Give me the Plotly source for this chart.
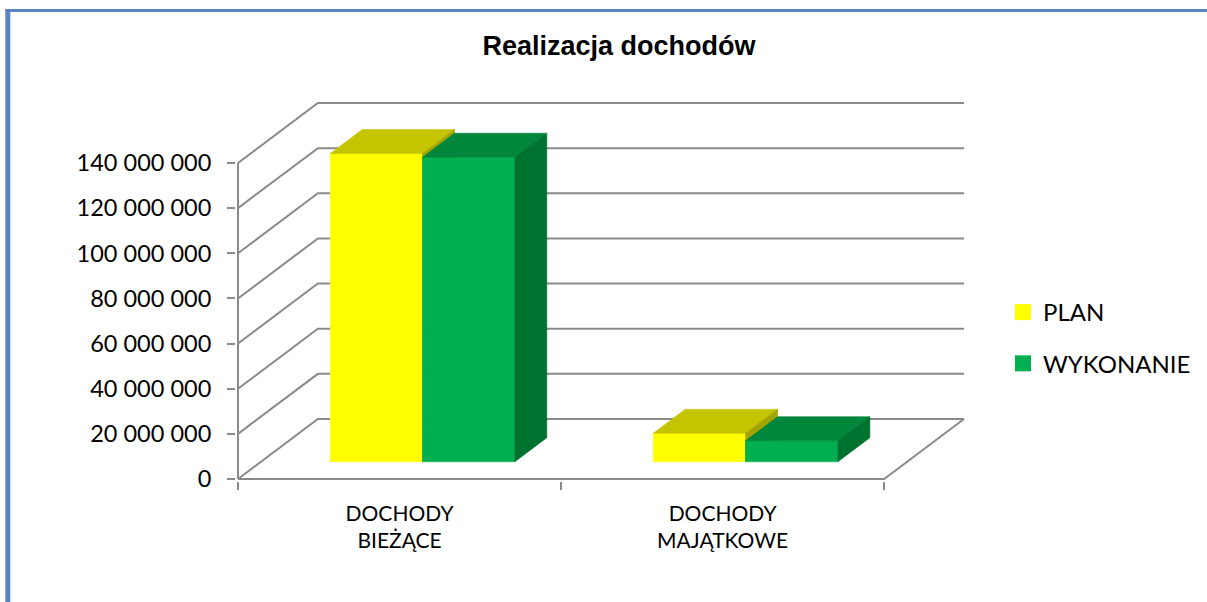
import plotly.graph_objects as go

# ---------------- data ----------------
categories = ["DOCHODY<br>BIEŻĄCE", "DOCHODY<br>MAJĄTKOWE"]
series_names = ["PLAN", "WYKONANIE"]
plan_values = [136_500_000, 12_600_000]
wykonanie_values = [134_900_000, 9_300_000]
y_ticks = [0, 20_000_000, 40_000_000, 60_000_000, 80_000_000,
           100_000_000, 120_000_000, 140_000_000]
y_tick_labels = [f"{v:,}".replace(",", " ") for v in y_ticks]
title_text = "<b>Realizacja dochodów</b>"

series_values = [plan_values, wykonanie_values]

# ---------------- styles ----------------
FRONT = ["#FFFF00", "#00B050"]
TOP = ["#C4C400", "#00873C"]
SIDE = ["#A4A400", "#00722F"]
GRID = "#8A8A8A"
BORDER = "#5885C1"
FONT = "Lato"

# ---------------- geometry (pixels) ----------------
W, H = 1207, 602
ORIGIN_PX = (238, 479)          # front-left-bottom corner of the floor
PX_PER_CAT = 323.5               # pixels per category slot
PX_PER_VAL = 316 / 140e6         # pixels per value unit
DEPTH_PX = (80, 60)              # oblique depth offset of back wall
PAD_PX = 2

n_cat = len(categories)
DX = DEPTH_PX[0] / PX_PER_CAT
DY = DEPTH_PX[1] / PX_PER_VAL
BAR_W = 1 / 3.5                  # gap width 150 %
D0, D1 = 0.288, 0.688            # bar depth span (fraction of wall depth)
x_left, x_right = -0.5, n_cat - 0.5
v_top = y_ticks[-1]

padx = PAD_PX / PX_PER_CAT
pady = PAD_PX / PX_PER_VAL
xr = [x_left - padx, x_right + DX + padx]
yr = [-pady, v_top + DY + pady]
plot_w = (xr[1] - xr[0]) * PX_PER_CAT
plot_h = (yr[1] - yr[0]) * PX_PER_VAL
m_l = ORIGIN_PX[0] - PAD_PX
m_b = H - ORIGIN_PX[1] - PAD_PX
m_t = H - m_b - plot_h
m_r = W - m_l - plot_w


def P(x, v, d):
    return x + DX * d, v + DY * d


fig = go.Figure()

# ---------------- walls / gridlines ----------------
gx, gy = [], []
for v in y_ticks:
    for pt in (P(x_left, v, 0), P(x_left, v, 1), P(x_right, v, 1)):
        gx.append(pt[0]); gy.append(pt[1])
    gx.append(None); gy.append(None)
# floor front edge and right edge
for pt in (P(x_left, 0, 0), P(x_right, 0, 0), P(x_right, 0, 1)):
    gx.append(pt[0]); gy.append(pt[1])
gx.append(None); gy.append(None)
# front vertical axis
for pt in (P(x_left, 0, 0), P(x_left, v_top, 0)):
    gx.append(pt[0]); gy.append(pt[1])
fig.add_trace(go.Scatter(x=gx, y=gy, mode="lines", line=dict(color=GRID, width=2),
                         hoverinfo="skip", showlegend=False))

# ---------------- bars ----------------
def face(pts, color):
    xs = [p[0] for p in pts] + [pts[0][0]]
    ys = [p[1] for p in pts] + [pts[0][1]]
    fig.add_trace(go.Scatter(x=xs, y=ys, mode="lines", fill="toself",
                             fillcolor=color, line=dict(color=color, width=0.6),
                             hoverinfo="skip", showlegend=False))

for i in range(n_cat):
    for j, vals in enumerate(series_values):
        h = vals[i]
        x0 = i - BAR_W + j * BAR_W
        x1 = x0 + BAR_W
        face([P(x0, 0, D0), P(x1, 0, D0), P(x1, h, D0), P(x0, h, D0)], FRONT[j])
        face([P(x0, h, D0), P(x1, h, D0), P(x1, h, D1), P(x0, h, D1)], TOP[j])
        face([P(x1, 0, D0), P(x1, 0, D1), P(x1, h, D1), P(x1, h, D0)], SIDE[j])

# ---------------- legend entries ----------------
for j, name in enumerate(series_names):
    fig.add_trace(go.Scatter(x=[None], y=[None], mode="markers", name=name,
                             marker=dict(symbol="square", size=16, color=FRONT[j]),
                             legendgroup=name))


def pxx(px):
    return (px - m_l) / plot_w


def pxy(py):
    return (H - py - m_b) / plot_h


fig.update_layout(
    width=W, height=H, autosize=False,
    margin=dict(l=m_l, r=m_r, t=m_t, b=m_b, pad=0),
    paper_bgcolor="white", plot_bgcolor="white",
    font=dict(family=FONT, size=23, color="black"),
    title=dict(text=title_text, x=619 / W, xanchor="center", y=1 - 46 / H,
               yanchor="middle", yref="container",
               font=dict(family="Liberation Sans", size=27, color="black")),
    xaxis=dict(range=xr, showgrid=False, zeroline=False, showline=False,
               tickvals=list(range(n_cat)), ticktext=categories, ticks="",
               ticklabelstandoff=18,
               minor=dict(tickvals=[x_left + k for k in range(n_cat + 1)],
                          ticks="outside", ticklen=8, tickwidth=1.5, tickcolor=GRID),
               tickfont=dict(family=FONT, size=21)),
    yaxis=dict(range=yr, showgrid=False, zeroline=False, showline=False,
               tickvals=y_ticks, ticktext=y_tick_labels, ticks="outside",
               ticklen=8, tickwidth=1.5, tickcolor=GRID, ticklabelstandoff=11,
               tickfont=dict(family=FONT, size=23.5)),
    legend=dict(x=pxx(1003), y=pxy(290), xanchor="left", yanchor="top",
                font=dict(family=FONT, size=24), traceorder="grouped",
                tracegroupgap=17, bgcolor="rgba(0,0,0,0)"),
    shapes=[
        dict(type="line", xref="paper", yref="paper", x0=pxx(7.5), x1=pxx(7.5),
             y0=pxy(9), y1=pxy(H + 10), line=dict(color=BORDER, width=5)),
        dict(type="line", xref="paper", yref="paper", x0=pxx(5), x1=pxx(W + 10),
             y0=pxy(10.5), y1=pxy(10.5), line=dict(color=BORDER, width=3)),
    ],
)

fig.write_html("out.html", config={"displayModeBar": False},
               post_script="document.body.style.margin='0';"
                           "document.body.style.overflow='hidden';")
